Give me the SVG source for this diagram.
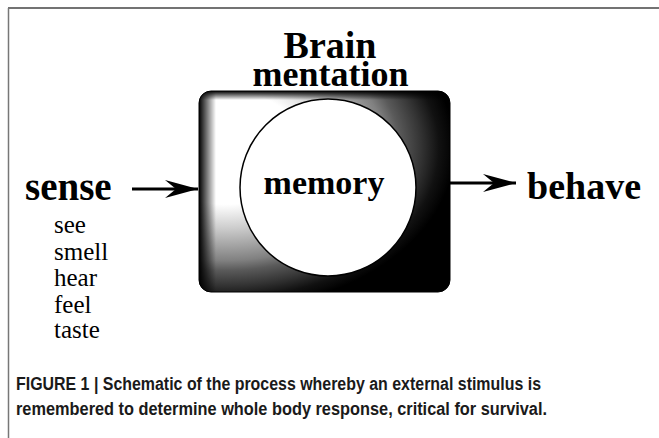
<svg xmlns="http://www.w3.org/2000/svg" width="659" height="438" viewBox="0 0 659 438">
<style>
.title{font-family:"Liberation Serif","Times New Roman",serif;font-weight:bold;fill:#000}
.item{font-family:"Liberation Serif","Times New Roman",serif;font-size:25px;fill:#000}
.cap{font-family:"Liberation Sans",Arial,sans-serif;font-weight:bold;font-size:18px;fill:#1a1a1a}
.conn{stroke:#000;stroke-width:3;fill:none}
</style>
<defs>
<radialGradient id="shade" gradientUnits="userSpaceOnUse" cx="225" cy="148" r="230" gradientTransform="translate(225 148) scale(1 0.7) translate(-225 -148)">
<stop offset="0" stop-color="#fff"/>
<stop offset="0.35" stop-color="#fff"/>
<stop offset="0.5" stop-color="#cccccc"/>
<stop offset="0.7" stop-color="#808080"/>
<stop offset="0.76" stop-color="#5a5a5a"/>
<stop offset="0.85" stop-color="#353535"/>
<stop offset="0.93" stop-color="#111"/>
<stop offset="1" stop-color="#000"/>
</radialGradient>
<linearGradient id="rimL" x1="0" y1="0" x2="1" y2="0">
<stop offset="0" stop-color="#000" stop-opacity="1"/>
<stop offset="1" stop-color="#000" stop-opacity="0"/>
</linearGradient>
<linearGradient id="rimT" x1="0" y1="0" x2="0" y2="1">
<stop offset="0" stop-color="#000" stop-opacity="1"/>
<stop offset="1" stop-color="#000" stop-opacity="0"/>
</linearGradient>
<clipPath id="boxclip"><rect x="199" y="91" width="251" height="201" rx="12" ry="12"/></clipPath>
<marker id="arrow" markerUnits="userSpaceOnUse" markerWidth="34" markerHeight="20" refX="33" refY="10" orient="auto" viewBox="0 0 34 20">
<path d="M33,10 L0,1 L11,10 L0,19 Z" fill="#000"/>
</marker>
</defs>
<rect width="659" height="438" fill="#fff"/>
<g id="frame">
<line x1="8" y1="8" x2="659" y2="8" stroke="#444" stroke-width="1.5"/>
<line x1="8.5" y1="8" x2="8.5" y2="438" stroke="#777" stroke-width="1.5"/>
</g>
<g id="brain">
<text class="title" x="330" y="58" font-size="38" text-anchor="middle">Brain</text>
<text class="title" x="330.5" y="86" font-size="36" text-anchor="middle">mentation</text>
<g clip-path="url(#boxclip)">
<rect x="199" y="91" width="251" height="201" fill="url(#shade)"/>
<rect x="199" y="91" width="17" height="201" fill="url(#rimL)"/>
<rect x="199" y="91" width="251" height="9" fill="url(#rimT)"/>
</g>
<rect x="199" y="91" width="251" height="201" rx="12" ry="12" fill="none" stroke="#000" stroke-width="1"/>
</g>
<g id="memory">
<ellipse cx="328" cy="187.5" rx="88" ry="88.5" fill="#fff" stroke="#000" stroke-width="1.5"/>
<text class="title" x="324" y="194" font-size="34" text-anchor="middle">memory</text>
</g>
<g id="sense">
<text class="title" x="25" y="200" font-size="39">sense</text>
<text class="item" x="54" y="233">see</text>
<text class="item" x="54" y="260">smell</text>
<text class="item" x="54" y="286">hear</text>
<text class="item" x="54" y="313">feel</text>
<text class="item" x="54" y="338">taste</text>
</g>
<g id="behave">
<text class="title" x="527" y="199" font-size="38">behave</text>
</g>
<g id="connectors">
<line class="conn" x1="132" y1="189" x2="198" y2="189" marker-end="url(#arrow)"/>
<line class="conn" x1="450" y1="183" x2="516" y2="183" marker-end="url(#arrow)"/>
</g>
<g id="caption">
<text class="cap" x="16" y="390" textLength="525" lengthAdjust="spacingAndGlyphs">FIGURE 1 | Schematic of the process whereby an external stimulus is</text>
<text class="cap" x="16" y="415" textLength="531" lengthAdjust="spacingAndGlyphs">remembered to determine whole body response, critical for survival.</text>
</g>
</svg>
